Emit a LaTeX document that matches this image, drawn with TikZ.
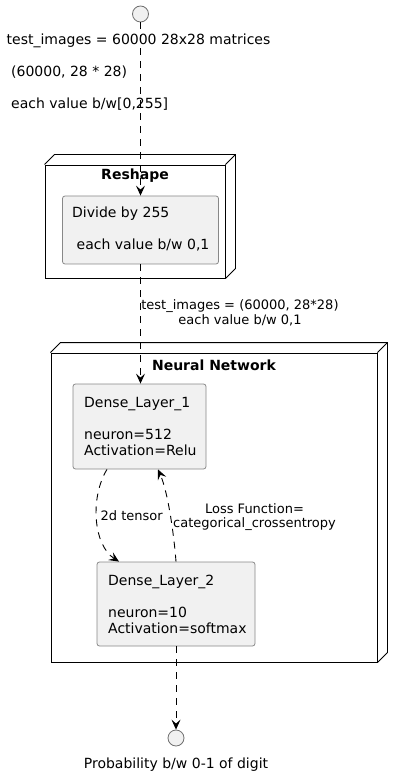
\documentclass[tikz,border=0pt]{standalone}
\usepackage{fontspec}
\setmainfont{DejaVu Sans}
\usetikzlibrary{arrows.meta}
\definecolor{boxfill}{HTML}{F1F1F1}
\definecolor{boxline}{HTML}{888888}
\definecolor{circline}{HTML}{707070}
\begin{document}
\begin{tikzpicture}[x=1pt,y=-1pt,
 txt/.style={inner sep=0pt, anchor=base west, font=\fontsize{14}{16}\selectfont},
 txtc/.style={inner sep=0pt, anchor=base, font=\fontsize{14}{16}\selectfont},
 lbl/.style={inner sep=0pt, anchor=base, font=\fontsize{13}{15}\selectfont},
 lblw/.style={inner sep=0pt, anchor=base west, font=\fontsize{13}{15}\selectfont},
 ttl/.style={inner sep=0pt, anchor=base, font=\fontsize{14}{16}\selectfont\bfseries},
 layer/.style={draw=boxline, fill=boxfill, rounded corners=2.5pt, line width=0.8pt, inner sep=0pt},
 frontface/.style={draw=black, line width=0.9pt, inner sep=0pt},
 depth/.style={draw=black, line width=0.9pt},
 endpt/.style={circle, draw=circline, fill=boxfill, line width=0.8pt, minimum size=16pt, inner sep=0pt},
 flow/.style={dash pattern=on 7pt off 6pt, line width=0.9pt, -{Stealth[length=10pt,width=9pt,inset=4pt]}}
]
\useasboundingbox (0,0) rectangle (403,775);

% start / end points
\node[endpt] (start) at (140.5,14) {};
\node[endpt] (finish) at (176,738) {};

% Reshape node
\node[frontface, minimum width=180pt, minimum height=113pt] (reshape) at (135,221.5) {};
\draw[depth] (reshape.north west) -- ++(10,-10) -- ([shift={(10pt,10pt)}]reshape.north east) -- ([shift={(10pt,10pt)}]reshape.south east) -- (reshape.south east);
\draw[depth] (reshape.north east) -- ([shift={(10pt,10pt)}]reshape.north east);
\node[ttl] (reshapetitle) at (135,179.5) {Reshape};
\node[layer, minimum width=156pt, minimum height=68pt] (divide) at (140.5,230) {};
\node[txt] (dividea) at (72,217.5) {Divide by 255};
\node[txt] (divideb) at (76.5,250) {each value b/w 0,1};

% Neural Network node
\node[frontface, minimum width=326pt, minimum height=309pt] (nn) at (214,507.5) {};
\draw[depth] (nn.north west) -- ++(10,-10) -- ([shift={(10pt,10pt)}]nn.north east) -- ([shift={(10pt,10pt)}]nn.south east) -- (nn.south east);
\draw[depth] (nn.north east) -- ([shift={(10pt,10pt)}]nn.north east);
\node[ttl] (nntitle) at (214,370) {Neural Network};

\node[layer, minimum width=133pt, minimum height=85pt] (d1) at (139.5,426.5) {};
\node[txt] (d1a) at (84,407) {Dense\_Layer\_1};
\node[txt] (d1b) at (84,439) {neuron=512};
\node[txt] (d1c) at (84,455) {Activation=Relu};

\node[layer, minimum width=158pt, minimum height=84pt] (d2) at (176,604) {};
\node[txt] (d2a) at (108,585) {Dense\_Layer\_2};
\node[txt] (d2b) at (108,617) {neuron=10};
\node[txt] (d2c) at (108,633) {Activation=softmax};

% texts outside
\node[txt] (in1) at (6.5,44.5) {test\_images = 60000 28x28 matrices};
\node[txt] (in2) at (11,76.5) {(60000, 28 * 28)};
\node[txt] (in3) at (11,108.5) {each value b/w[0,255]};
\node[lbl] (e1a) at (240,309.5) {test\_images = (60000, 28*28)};
\node[lbl] (e1b) at (240,324) {each value b/w 0,1};
\node[lblw] (e2) at (100.5,520) {2d tensor};
\node[lbl] (e3a) at (254.5,513) {Loss Function=};
\node[lbl] (e3b) at (254.5,527.5) {categorical\_crossentropy};
\node[txtc] (out) at (176,768) {Probability b/w 0-1 of digit};

% connectors
\draw[flow] (start.south) -- (divide.north);
\draw[flow] (divide.south) -- (divide.south |- d1.north);
\draw[flow] ([xshift=-32.5pt]d1.south) .. controls (90,497) and (93,545) .. ([xshift=-57pt]d2.north);
\draw[flow] (d2.north) .. controls (174,535) and (168,492) .. ([xshift=18.5pt]d1.south);
\draw[flow] (d2.south) -- (finish.north);
\end{tikzpicture}
\end{document}
